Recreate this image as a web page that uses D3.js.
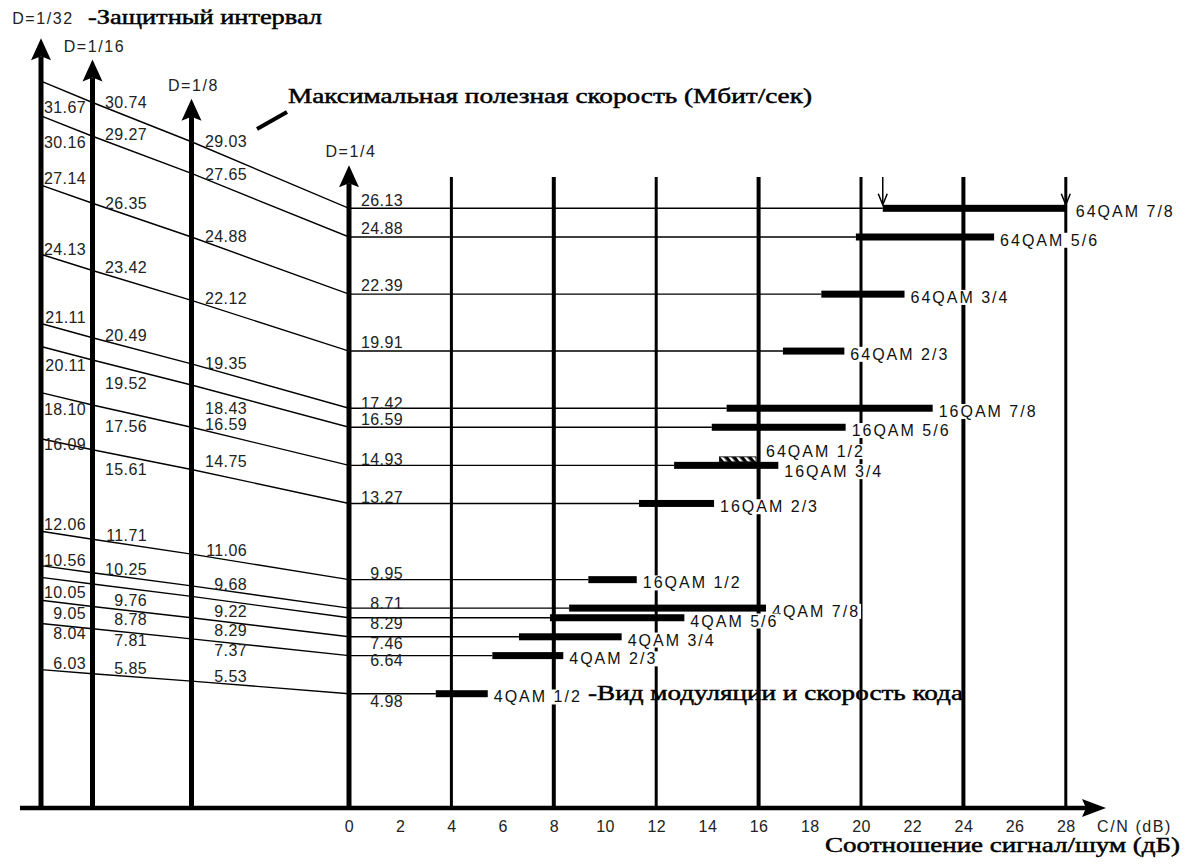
<!DOCTYPE html>
<html>
<head>
<meta charset="utf-8">
<title>DVB-T: скорость и C/N</title>
<script src="https://d3js.org/d3.v7.min.js"></script>
<style>
  body { margin: 0; background: #fff; }
  .num { font-family: "Liberation Sans", Arial, sans-serif; font-size: 16px; fill: #222; letter-spacing: 0.4px; }
  .guard { letter-spacing: 1.6px; }
  .mode { font-family: "Liberation Sans", Arial, sans-serif; font-size: 16px; fill: #111; letter-spacing: 2px; }
  .serif { font-family: "Liberation Serif", "Times New Roman", serif; font-size: 20px; fill: #000; stroke: #000; stroke-width: 0.45px; }
</style>
</head>
<body>
<svg id="chart"></svg>
<script>
// guard intervals
var guards = ['D=1/32', 'D=1/16', 'D=1/8', 'D=1/4'];
var guardValues = [1 / 32, 1 / 16, 1 / 8, 1 / 4];

// modulation / code rate
var modes = ['64QAM 7/8', '64QAM 5/6', '64QAM 3/4', '64QAM 2/3',
  '16QAM 7/8', '16QAM 5/6', '16QAM 3/4', '16QAM 2/3', '16QAM 1/2',
  '4QAM 7/8', '4QAM 5/6', '4QAM 3/4', '4QAM 2/3', '4QAM 1/2'];

// useful bitrate, Mbit/s, per guard interval
var rate32 = [31.67, 30.16, 27.14, 24.13, 21.11, 20.11, 18.10, 16.09, 12.06, 10.56, 10.05, 9.05, 8.04, 6.03];
var rate16 = [30.74, 29.27, 26.35, 23.42, 20.49, 19.52, 17.56, 15.61, 11.71, 10.25, 9.76, 8.78, 7.81, 5.85];
var rate8 = [29.03, 27.65, 24.88, 22.12, 19.35, 18.43, 16.59, 14.75, 11.06, 9.68, 9.22, 8.29, 7.37, 5.53];
var rate4 = [26.13, 24.88, 22.39, 19.91, 17.42, 16.59, 14.93, 13.27, 9.95, 8.71, 8.29, 7.46, 6.64, 4.98];

// required C/N range, dB
var cnFrom = [20.85, 19.8, 18.45, 16.95, 14.75, 14.17, 12.7, 11.33, 9.35, 8.6, 7.85, 6.64, 5.6, 3.39];
var cnTo = [28.0, 25.2, 21.7, 19.35, 22.8, 19.4, 16.77, 14.26, 11.24, 16.29, 13.1, 10.65, 8.37, 5.42];

// 64QAM 1/2 shares the 16QAM 3/4 bitrate
var extraMode = '64QAM 1/2';
var extraRow = 6;
var extraFrom = 14.47;
var extraTo = 15.9;

var cnTicks = [0, 2, 4, 6, 8, 10, 12, 14, 16, 18, 20, 22, 24, 26, 28];
var gridTicks = [4, 8, 12, 16, 20, 24, 28];

// label nudges (px) from the line, per guard axis
var nudge32 = [26, 26, -7, -5, -6, 19, 17, 6, -7, -5, 15, 13, 10, -6];
var nudge16 = [0, -2, 0, -3, -3, 23, 21, 19, -4, -4, 16, 13, 11, -6];
var nudge8 = [-1, 1, -1, -2, -1, 23, -3, -8, -4, -2, 15, 12, 11, -5];
var nudge4 = [-8, -9, -9, -9, -5, -8, -6, -6, -6, -5, 5, 6, 5, 8];

var rates = [rate32, rate16, rate8, rate4];
var nudges = [nudge32, nudge16, nudge8, nudge4];

var W = 1185, H = 865;
var svg = d3.select('#chart').attr('width', W).attr('height', H);

var x = d3.scaleLinear().domain([0, 28]).range([349, 349 + 28 * 25.6]);
var y = d3.scaleLinear().domain([0, 33]).range([808, 808 - 33 * 22.95]);
var gx = d3.scaleLinear().domain(guardValues).range([41, 92.5, 191.5, 349]);
var labelRight = [86, 147, 247, 403];
var gridTop = 177;

// hatch pattern
var defs = svg.append('defs');
var pat = defs.append('pattern')
  .attr('id', 'hatch').attr('patternUnits', 'userSpaceOnUse')
  .attr('width', 6).attr('height', 6)
  .attr('patternTransform', 'rotate(-40)');
pat.append('rect').attr('width', 6).attr('height', 6).attr('fill', '#000');
pat.append('rect').attr('x', 0).attr('width', 2.5).attr('height', 6).attr('fill', '#fff');

// vertical grid
svg.append('g').selectAll('line')
  .data(gridTicks).enter().append('line')
  .attr('x1', function(d) { return x(d); })
  .attr('x2', function(d) { return x(d); })
  .attr('y1', gridTop).attr('y2', y(0))
  .attr('stroke', '#000')
  .attr('stroke-width', function(d) { return d % 8 === 0 ? 4 : 3; });

// rate lines: through the four guard axes, then horizontal to the bar
var line = d3.line();
var rows = modes.map(function(m, i) { return i; });
svg.append('g').selectAll('path')
  .data(rows).enter().append('path')
  .attr('fill', 'none').attr('stroke', '#000').attr('stroke-width', 1.4)
  .attr('d', function(i) {
    var pts = guardValues.map(function(g, k) { return [gx(g), y(rates[k][i])]; });
    pts.push([x(cnFrom[i]), y(rate4[i])]);
    return line(pts);
  });

// guard interval axes (arrows)
guardValues.forEach(function(g, k) {
  var tip = y(d3.max(rates[k])) - 43;
  var cx = gx(g);
  svg.append('line')
    .attr('x1', cx).attr('x2', cx).attr('y1', y(0)).attr('y2', tip + 18)
    .attr('stroke', '#000').attr('stroke-width', 5);
  svg.append('path')
    .attr('d', 'M' + cx + ',' + tip + 'L' + (cx + 10) + ',' + (tip + 22) +
      'L' + cx + ',' + (tip + 18) + 'L' + (cx - 10) + ',' + (tip + 22) + 'Z')
    .attr('fill', '#000');
  svg.append('text').attr('class', 'num guard')
    .attr('x', cx + 2).attr('y', tip - (k === 0 ? 14 : 8))
    .attr('text-anchor', 'middle')
    .text(guards[k]);
});

// value labels
rates.forEach(function(r, k) {
  svg.append('g').selectAll('text')
    .data(rows).enter().append('text')
    .attr('class', 'num')
    .attr('x', labelRight[k])
    .attr('y', function(i) { return y(r[i]) + nudges[k][i]; })
    .attr('dy', '0.36em')
    .attr('text-anchor', 'end')
    .text(function(i) { return r[i].toFixed(2); });
});

// C/N bars
svg.append('g').selectAll('rect')
  .data(rows).enter().append('rect')
  .attr('x', function(i) { return x(cnFrom[i]); })
  .attr('width', function(i) { return x(cnTo[i]) - x(cnFrom[i]); })
  .attr('y', function(i) { return y(rate4[i]) - 3.5; })
  .attr('height', 7)
  .attr('fill', '#000');

// 64QAM 1/2 hatched bar
svg.append('rect')
  .attr('x', x(extraFrom)).attr('width', x(extraTo) - x(extraFrom))
  .attr('y', y(rate4[extraRow]) - 8.5).attr('height', 5)
  .attr('fill', 'url(#hatch)').attr('stroke', '#000').attr('stroke-width', 0.8);

// down arrows marking the 64QAM 7/8 range
[cnFrom[0], cnTo[0]].forEach(function(v) {
  var ax = x(v), by = y(rate4[0]) - 3.5;
  svg.append('line').attr('x1', ax).attr('x2', ax).attr('y1', gridTop).attr('y2', by)
    .attr('stroke', '#000').attr('stroke-width', 1.5);
  svg.append('path')
    .attr('d', 'M' + (ax - 4.5) + ',' + (by - 11) + 'L' + ax + ',' + by + 'L' + (ax + 4.5) + ',' + (by - 11))
    .attr('fill', 'none').attr('stroke', '#000').attr('stroke-width', 1.5);
});

// modulation labels with white background
var modeLabels = svg.append('g');
function modeLabel(txt, lx, ly) {
  var g = modeLabels.append('g');
  var bg = g.append('rect').attr('fill', '#fff');
  var t = g.append('text').attr('class', 'mode')
    .attr('x', lx).attr('y', ly).attr('dy', '0.36em').text(txt);
  var b = t.node().getBBox();
  bg.attr('x', b.x - 1).attr('y', b.y + 1).attr('width', b.width + 2).attr('height', b.height - 2);
}
rows.forEach(function(i) {
  modeLabel(modes[i], x(cnTo[i]) + (i === 0 ? 10 : 6), y(rate4[i]) + (i === extraRow ? 6 : 3));
});
modeLabel(extraMode, x(extraTo) + 10, y(rate4[extraRow]) - 14);

// C/N axis
svg.append('line')
  .attr('x1', 20).attr('x2', 1090).attr('y1', y(0)).attr('y2', y(0))
  .attr('stroke', '#000').attr('stroke-width', 4.5);
svg.append('path')
  .attr('d', 'M1106,' + y(0) + 'L1082,' + (y(0) - 9) + 'L1086,' + y(0) + 'L1082,' + (y(0) + 9) + 'Z')
  .attr('fill', '#000');

var xAxis = svg.append('g')
  .attr('transform', 'translate(0,' + y(0) + ')')
  .call(d3.axisBottom(x).tickValues(cnTicks).tickSize(0).tickPadding(13));
xAxis.select('.domain').remove();
xAxis.selectAll('text')
  .attr('class', 'num')
  .style('font-family', '"Liberation Sans", Arial, sans-serif')
  .style('font-size', '16px');

svg.append('text').attr('class', 'num guard')
  .attr('x', 1097).attr('y', y(0) + 13).attr('dy', '0.71em')
  .text('C/N (dB)');

// captions
function caption(txt, cx, cy, len) {
  svg.append('text').attr('class', 'serif')
    .attr('x', cx).attr('y', cy)
    .attr('textLength', len).attr('lengthAdjust', 'spacingAndGlyphs')
    .text(txt);
}
caption('-Защитный интервал', 88, 24, 234);
caption('Максимальная полезная скорость (Мбит/сек)', 288, 103, 524);
caption('-Вид модуляции и скорость кода', 588, 700, 375);
caption('Соотношение сигнал/шум (дБ)', 825, 852, 355);

// pointer to the bitrate caption
svg.append('line')
  .attr('x1', 257).attr('y1', 129).attr('x2', 287).attr('y2', 112)
  .attr('stroke', '#000').attr('stroke-width', 4);
</script>
</body>
</html>
